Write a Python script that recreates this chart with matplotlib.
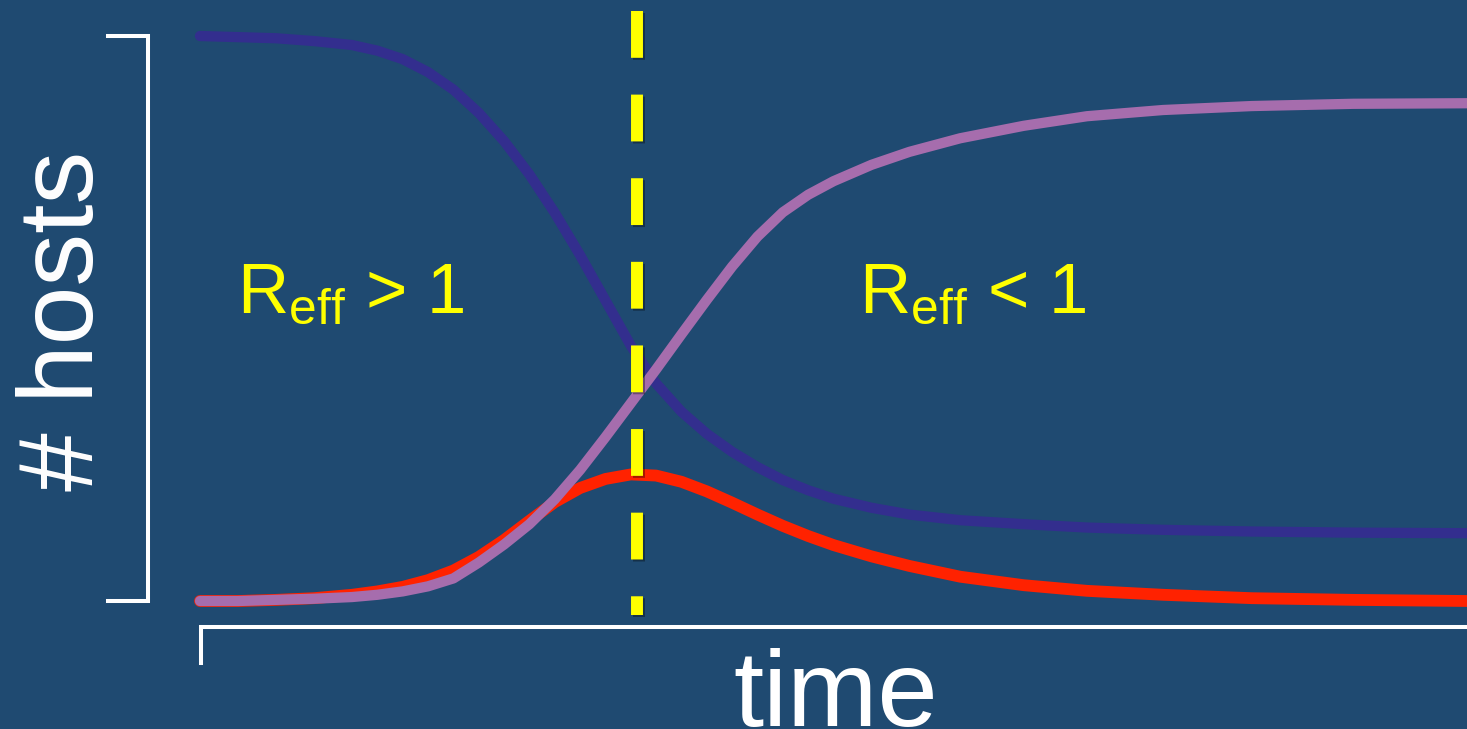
import matplotlib
matplotlib.use('Agg')
import matplotlib.pyplot as plt
import matplotlib.patheffects as pe

plt.rcParams['font.family'] = ['Liberation Sans', 'DejaVu Sans']
plt.rcParams['mathtext.fontset'] = 'custom'
plt.rcParams['mathtext.rm'] = 'Liberation Sans'
plt.rcParams['mathtext.it'] = 'Liberation Sans:italic'

# SIR epidemic curves (fraction of hosts over time)
time = [0, 3, 6, 9, 12, 14, 16, 18, 20, 22, 24, 26, 28, 30, 32, 34, 36, 38,
        40, 42, 44, 46, 48, 50, 53, 56, 60, 65, 70, 76, 83, 91, 100]
susceptible = [1.000, 0.998, 0.996, 0.991, 0.984, 0.974, 0.959, 0.936, 0.905,
               0.864, 0.814, 0.755, 0.687, 0.612, 0.532, 0.452, 0.385, 0.335,
               0.296, 0.264, 0.237, 0.214, 0.196, 0.181, 0.165, 0.153, 0.143,
               0.136, 0.130, 0.126, 0.123, 0.121, 0.120]
infected = [0.000, 0.000, 0.002, 0.005, 0.011, 0.017, 0.025, 0.037, 0.054,
            0.078, 0.108, 0.142, 0.175, 0.200, 0.216, 0.224, 0.222, 0.211,
            0.194, 0.174, 0.153, 0.133, 0.115, 0.099, 0.079, 0.062, 0.043,
            0.028, 0.018, 0.011, 0.005, 0.002, 0.000]
recovered = [0.000, 0.000, 0.002, 0.004, 0.007, 0.011, 0.017, 0.026, 0.040,
             0.068, 0.100, 0.136, 0.180, 0.232, 0.290, 0.350, 0.410, 0.472,
             0.533, 0.592, 0.645, 0.688, 0.719, 0.743, 0.772, 0.795, 0.819,
             0.841, 0.858, 0.869, 0.876, 0.880, 0.881]
peak_time = 34.5

BG = '#1f4a71'
W, H = 1467, 729

def fx(x):
    return x / W

def fy(y):
    return 1 - y / H

fig = plt.figure(figsize=(W / 100, H / 100), dpi=100, facecolor=BG)
ax = fig.add_axes([0, 0, 1, 1])
ax.set_facecolor(BG)
ax.axis('off')
# one time unit = 12.67 px, whole population = 565 px
ax.set_xlim(-200 / 12.67, (W - 200) / 12.67)
ax.set_ylim(-(H - 601) / 565, 601 / 565)

ax.plot(time, infected, color='#ff2200', lw=8.5, solid_capstyle='round',
        solid_joinstyle='round', zorder=2, clip_on=False)
ax.plot(time, susceptible, color='#332e8e', lw=7.4, solid_capstyle='round',
        solid_joinstyle='round', zorder=3, clip_on=False)
ax.plot(time, recovered, color='#a66dad', lw=7.4, solid_capstyle='round',
        solid_joinstyle='round', zorder=4, clip_on=False)

# threshold at the epidemic peak
ax.plot([peak_time, peak_time], [1.044, -0.025], color='#ffff00', lw=8.6,
        dashes=(3.92, 3.08), dash_capstyle='butt', zorder=5, clip_on=False,
        path_effects=[pe.SimpleLineShadow(offset=(1, -1.5), shadow_color='black', alpha=0.35),
                      pe.Normal()])

# brackets standing in for the axes
fig.add_artist(plt.Line2D([fx(108), fx(148), fx(148), fx(108)],
                          [fy(36), fy(36), fy(601), fy(601)],
                          color='white', lw=2.9, solid_joinstyle='miter'))
fig.add_artist(plt.Line2D([fx(201), fx(201), fx(W + 5)],
                          [fy(663), fy(627), fy(627)],
                          color='white', lw=2.9, solid_joinstyle='miter'))

fig.text(fx(66), fy(321), '# hosts', rotation=90, fontsize=76, color='white',
         ha='center', va='center')
fig.text(fx(836), fy(726), 'time', fontsize=78, color='white',
         ha='center', va='baseline')

fig.text(fx(237), fy(313), r'R$_{\mathrm{eff}}$ > 1', fontsize=51,
         color='#ffff00', ha='left', va='baseline')
fig.text(fx(859), fy(313), r'R$_{\mathrm{eff}}$ < 1', fontsize=51,
         color='#ffff00', ha='left', va='baseline')

fig.savefig('out.png', dpi=100, facecolor=BG)
